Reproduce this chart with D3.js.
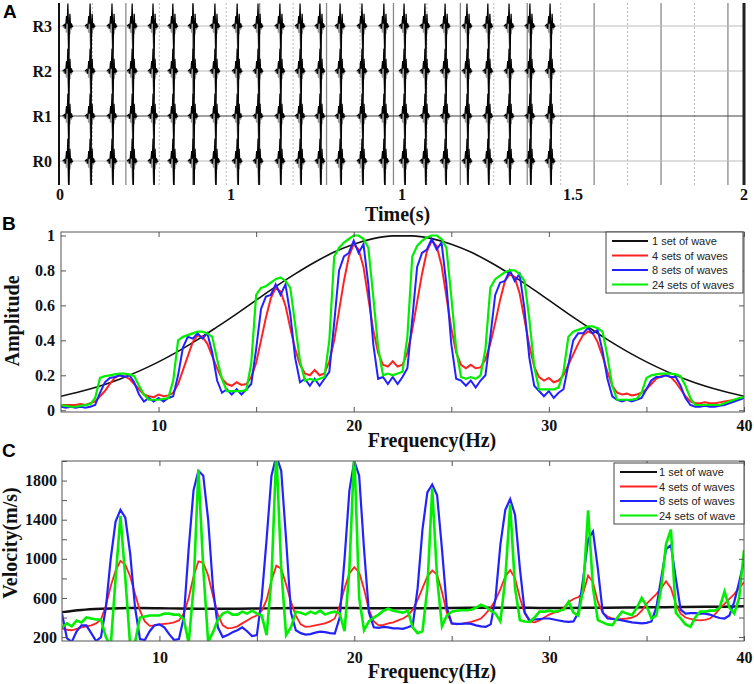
<!DOCTYPE html>
<html>
<head>
<meta charset="utf-8">
<script src="https://cdn.jsdelivr.net/npm/d3@7"></script>
<style>
body{margin:0;background:#fff;}
svg{display:block;}
.tk{font-family:"Liberation Serif","Times New Roman",serif;font-weight:bold;font-size:16px;fill:#111;}
.ttl{font-family:"Liberation Serif","Times New Roman",serif;font-weight:bold;font-size:20px;fill:#111;}
.pnl{font-family:"Liberation Sans",Arial,sans-serif;font-weight:bold;font-size:19px;fill:#000;}
.lg{font-family:"Liberation Sans",Arial,sans-serif;font-size:11px;fill:#222;}
</style>
</head>
<body>
<div id="chart"></div>
<script>
// ---- panel A : 24 wavelets recorded at 4 receivers
var rows = ["R0","R1","R2","R3"];
var waveTimes = [0.023,0.088,0.152,0.211,0.272,0.330,0.389,0.453,0.518,0.579,0.643,0.702,
                 0.760,0.819,0.883,0.947,1.006,1.067,1.126,1.190,1.251,1.313,1.374,1.433];
// wavelet samples: offset (ms), black trace amplitude, grey trace amplitude (1 = one row)
var waveMs    = [-15, -10, -7, -4, -2, 0, 1.5, 3, 4.5, 6, 8, 10, 12, 15];
var waveBlack = [0, 0.03, -0.06, 0.22, 0.05, 0.5, 0.1, -0.98, 0.02, 0.27, -0.05, 0.06, -0.02, 0];
var waveGrey  = [0, -0.04, 0.06, -0.15, 0.08, -0.22, -0.5, -0.18, 0.1, -0.18, 0.04, -0.08, 0.03, 0];
var timeTicks = [0, 0.5, 1, 1.5, 2];
var timeTickText = ["0", "1", "1", "1.5", "2"];

// ---- panel B : amplitude spectra
var freqCoarse = d3.range(5, 41);        // 1 Hz steps
var freqFine = d3.range(141).map(function(i){ return 5 + i * 0.25; });  // 0.25 Hz steps
var ampBlack = [0.08,0.107,0.139,0.178,0.224,0.277,0.337,0.404,0.477,0.552,0.63,0.707,0.78,0.847,
  0.905,0.95,0.982,0.998,0.998,0.982,0.95,0.905,0.847,0.78,0.707,0.63,0.552,0.477,0.404,0.337,
  0.277,0.224,0.178,0.139,0.107,0.08];
var ampRed = [
  0.03,0.03,0.03,0.03,  0.035,0.03,0.04,0.05,  0.08,0.11,0.15,0.185,  0.2,0.195,0.18,0.15,
  0.12,0.09,0.08,0.075, 0.09,0.08,0.085,0.1,   0.15,0.23,0.31,0.39,   0.43,0.42,0.38,0.31,
  0.24,0.18,0.15,0.14,  0.16,0.145,0.15,0.19,  0.27,0.4,0.53,0.64,    0.7,0.68,0.6,0.47,
  0.35,0.26,0.21,0.2,   0.23,0.2,0.21,0.28,    0.4,0.57,0.74,0.88,    0.95,0.92,0.82,0.64,
  0.46,0.33,0.26,0.25,  0.28,0.25,0.26,0.33,   0.46,0.62,0.78,0.91,   0.97,0.94,0.83,0.65,
  0.47,0.33,0.26,0.24,  0.26,0.24,0.245,0.29,  0.38,0.5,0.63,0.74,    0.78,0.76,0.67,0.52,
  0.37,0.25,0.19,0.17,  0.185,0.16,0.17,0.2,   0.26,0.32,0.38,0.43,   0.45,0.44,0.39,0.31,
  0.22,0.14,0.1,0.09,   0.095,0.085,0.09,0.1,  0.12,0.15,0.18,0.195,  0.2,0.19,0.16,0.12,
  0.08,0.05,0.04,0.04,  0.045,0.04,0.04,0.045, 0.05,0.055,0.06,0.065, 0.07];
var ampBlue = [
  0.02,0.015,0.02,0.015, 0.02,0.015,0.02,0.03,  0.1,0.16,0.185,0.19,  0.2,0.19,0.2,0.16,
  0.09,0.05,0.07,0.05,   0.07,0.05,0.07,0.08,   0.2,0.36,0.42,0.41,   0.44,0.41,0.44,0.33,
  0.17,0.1,0.12,0.09,    0.12,0.09,0.12,0.15,   0.35,0.58,0.65,0.66,  0.72,0.66,0.72,0.55,
  0.3,0.16,0.18,0.14,    0.18,0.14,0.18,0.22,   0.5,0.8,0.88,0.9,     0.97,0.9,0.95,0.72,
  0.38,0.18,0.19,0.15,   0.19,0.15,0.19,0.24,   0.52,0.82,0.9,0.92,   0.98,0.92,0.96,0.72,
  0.38,0.18,0.17,0.14,   0.17,0.13,0.17,0.2,    0.42,0.66,0.73,0.74,  0.8,0.74,0.78,0.58,
  0.3,0.14,0.11,0.08,    0.11,0.07,0.1,0.12,    0.26,0.4,0.44,0.44,   0.47,0.44,0.46,0.34,
  0.18,0.08,0.06,0.05,   0.06,0.05,0.06,0.07,   0.12,0.17,0.19,0.19,  0.2,0.19,0.19,0.14,
  0.07,0.03,0.02,0.02,   0.025,0.02,0.02,0.025, 0.03,0.04,0.05,0.06,  0.07];
var ampGreen = [
  0.03,0.025,0.02,0.02,  0.025,0.03,0.035,0.07, 0.185,0.195,0.2,0.205, 0.21,0.21,0.205,0.195,
  0.14,0.09,0.06,0.06,   0.06,0.065,0.07,0.17,  0.4,0.42,0.43,0.44,    0.45,0.45,0.44,0.42,
  0.29,0.18,0.11,0.11,   0.11,0.11,0.115,0.27,  0.66,0.7,0.71,0.73,    0.75,0.76,0.74,0.7,
  0.49,0.28,0.17,0.18,   0.17,0.18,0.19,0.4,    0.88,0.93,0.96,0.98,   1.0,1.0,0.98,0.93,
  0.65,0.36,0.2,0.21,    0.2,0.21,0.22,0.42,    0.88,0.94,0.97,0.99,   1.0,1.0,0.98,0.93,
  0.65,0.35,0.19,0.18,   0.19,0.18,0.2,0.35,    0.7,0.75,0.77,0.79,    0.8,0.8,0.78,0.74,
  0.52,0.25,0.12,0.12,   0.12,0.12,0.13,0.22,   0.42,0.45,0.46,0.47,   0.48,0.48,0.47,0.45,
  0.31,0.14,0.06,0.06,   0.06,0.06,0.065,0.1,   0.185,0.2,0.205,0.21,  0.21,0.21,0.205,0.195,
  0.14,0.07,0.03,0.03,   0.03,0.03,0.03,0.03,   0.04,0.05,0.06,0.07,   0.075];

// ---- panel C : phase velocity spectra (m/s)
var velBlack = [455,478,490,496,497,495,492,490,489,490,492,495,497,498,498,497,495,494,
  494,495,497,499,500,500,499,498,498,499,501,503,505,506,507,509,511,514];
var velRed = [
  290,275,270,285,  300,310,320,340,  380,520,720,880,  980,940,820,640,
  470,360,315,320,  330,335,340,350,  370,440,600,820,  975,960,830,620,
  430,320,290,295,  310,340,370,400,  420,470,580,780,  930,900,740,560,
  420,330,305,310,  320,330,340,360,  390,520,700,850,  915,860,690,480,
  360,320,325,340,  350,370,390,420,  480,580,700,820,  880,840,660,450,
  340,330,335,345,  355,370,390,440,  500,580,690,820,  885,800,600,440,
  360,350,370,400,  430,450,460,500,  560,590,610,650,  830,760,560,450,
  410,390,380,385,  390,400,420,470,  540,590,640,700,  770,700,540,440,
  400,385,375,370,  375,390,430,490,  540,590,640,700,  760];
var velBlue = [
  440,190,150,260,  320,320,240,160,  200,500,1000,1380,  1500,1420,1050,500,
  180,170,260,320,  330,300,230,170,  180,400,1100,1700,  1900,1850,1400,700,
  300,200,220,250,  270,300,260,210,  220,600,1200,1850,  2050,1900,1200,450,
  270,240,225,230,  245,255,250,240,  235,400,1000,1700,  2000,1850,1100,450,
  300,295,305,300,  290,290,285,300,  320,700,1300,1680,  1760,1650,1100,500,
  340,335,335,340,  335,320,310,305,  330,600,1150,1500,  1610,1450,900,450,
  370,380,385,390,  390,380,370,360,  355,360,450,800,    1200,1280,900,450,
  390,385,380,370,  360,350,345,340,  345,360,500,800,    1100,1140,800,480,
  440,445,445,440,  440,430,410,395,  390,420,560,760,    980];
var velGreen = [
  300,340,310,370,  350,400,390,380,  380,200,110,800,   1440,800,110,150,
  400,410,420,420,  420,440,440,430,  430,380,140,700,   1910,900,150,250,
  380,440,460,430,  430,460,440,470,  440,420,220,800,   2100,900,220,300,
  460,450,430,460,  440,470,430,450,  460,440,260,900,   2100,600,270,360,
  400,430,470,490,  470,460,450,470,  300,240,260,700,   1720,800,310,420,
  460,470,475,475,  480,500,530,510,  470,440,360,800,   1554,700,373,360,
  356,400,460,460,  470,460,470,480,  560,450,420,700,   1496,700,373,350,
  330,322,400,460,  440,424,500,600,  520,390,420,700,   1150,1300,450,390,
  330,305,400,460,  460,470,470,500,  665,500,441,600,   1088];

var legendB = ["1 set of wave", "4 sets of waves", "8 sets of waves", "24 sets of waves"];
var legendC = ["1 set of wave", "4 sets of waves", "8 sets of waves", "24 sets of wave"];
var seriesColors = ["#111111", "#ff2222", "#2222ff", "#00ee00"];

var svg = d3.select("#chart").append("svg").attr("width", 754).attr("height", 684);
svg.append("rect").attr("width", 754).attr("height", 684).attr("fill", "#fff");
var defs = svg.append("defs");

function clip(id, x, y, w, h){
  defs.append("clipPath").attr("id", id).append("rect")
    .attr("x", x).attr("y", y).attr("width", w).attr("height", h);
  return "url(#" + id + ")";
}

// ================= panel A =================
var tScale = d3.scaleLinear().domain([0, 2]).range([60, 744]);
var rowY = d3.scaleLinear().domain([0, 3]).range([161, 26]);
var ampPx = d3.scaleLinear().domain([0, 1]).range([0, 45]);
var gA = svg.append("g").attr("clip-path", clip("clipA", 59, 3, 687, 182));

// vertical grid, every ~0.1 s, solid / dashed in turn
d3.range(1, 21).forEach(function(k){
  var x = tScale(k * 0.0978 - 0.003);
  gA.append("line").attr("x1", x).attr("x2", x).attr("y1", 3).attr("y2", 185)
    .attr("stroke", k % 2 ? "#bbb" : "#8a8a8a")
    .attr("stroke-width", k % 2 ? 1 : 1.3)
    .attr("stroke-dasharray", k % 2 ? "2,2" : null);
});
rows.forEach(function(r, i){
  gA.append("line").attr("x1", 59).attr("x2", 744).attr("y1", rowY(i)).attr("y2", rowY(i))
    .attr("stroke", r == "R1" ? "#444" : "#bbb").attr("stroke-width", r == "R1" ? 1.2 : 1);
});

function wavePath(t0, row, amps){
  var line = d3.line();
  return line(waveMs.map(function(ms, j){
    return [tScale(t0 + ms / 1000), rowY(row) - ampPx(amps[j])];
  }));
}
rows.forEach(function(r, i){
  waveTimes.forEach(function(t0){
    gA.append("path").attr("d", wavePath(t0, i, waveGrey))
      .attr("fill", "none").attr("stroke", "#999").attr("stroke-width", 1.3);
  });
  waveTimes.forEach(function(t0){
    gA.append("path").attr("d", wavePath(t0, i, waveBlack))
      .attr("fill", "none").attr("stroke", "#000").attr("stroke-width", 1.2);
  });
});
svg.append("line").attr("x1", 59).attr("x2", 59).attr("y1", 3).attr("y2", 185)
  .attr("stroke", "#111").attr("stroke-width", 2);
svg.append("line").attr("x1", 744).attr("x2", 744).attr("y1", 3).attr("y2", 185)
  .attr("stroke", "#222").attr("stroke-width", 3);

rows.forEach(function(r, i){
  svg.append("text").attr("class", "tk").attr("x", 52).attr("y", rowY(i) + 5.5)
    .attr("text-anchor", "end").text(r);
});
timeTicks.forEach(function(t, i){
  svg.append("text").attr("class", "tk").attr("x", tScale(t)).attr("y", 200)
    .attr("text-anchor", "middle").text(timeTickText[i]);
});
svg.append("text").attr("class", "ttl").attr("font-size", "18px")
  .attr("x", 365).attr("y", 221).text("Time(s)");
svg.append("text").attr("class", "pnl").attr("x", 3).attr("y", 18).text("A");

// ================= shared axis helper =================
function frameAxes(x, y, xVals, yVals, yLabelVals, xPad, yPad, yFmt){
  var g = svg.append("g");
  var x0 = x.range()[0], x1 = x.range()[1], y0 = y.range()[0], y1 = y.range()[1];
  g.append("g").attr("transform", "translate(0," + y0 + ")")
    .call(d3.axisBottom(x).tickValues(xVals).tickSize(-5).tickPadding(xPad)
      .tickFormat(function(d){ return d % 10 === 0 ? d : ""; }));
  g.append("g").attr("transform", "translate(0," + y1 + ")")
    .call(d3.axisTop(x).tickValues(xVals).tickSize(-5).tickFormat(""));
  g.append("g").attr("transform", "translate(" + x0 + ",0)")
    .call(d3.axisLeft(y).tickValues(yVals).tickSize(-5).tickPadding(yPad)
      .tickFormat(function(d){ return yLabelVals.indexOf(d) >= 0 ? yFmt(d) : ""; }));
  g.append("g").attr("transform", "translate(" + x1 + ",0)")
    .call(d3.axisRight(y).tickValues(yVals).tickSize(-5).tickFormat(""));
  g.selectAll(".domain").remove();
  g.selectAll(".tick line").attr("stroke", "#555");
  g.selectAll("g").attr("font-family", null).attr("font-size", null);
  g.selectAll(".tick text").attr("class", "tk").attr("fill", null);
  svg.append("rect").attr("x", x0).attr("y", y1).attr("width", x1 - x0).attr("height", y0 - y1)
    .attr("fill", "none").attr("stroke", "#555").attr("stroke-width", 1);
}

function drawLegend(x, y, w, h, labels, lineX0, lineX1, textX){
  var g = svg.append("g");
  g.append("rect").attr("x", x).attr("y", y).attr("width", w).attr("height", h)
    .attr("fill", "#fff").attr("stroke", "#444").attr("stroke-width", 1);
  labels.forEach(function(l, i){
    var yy = y + 9 + i * 14.5;
    g.append("line").attr("x1", lineX0).attr("x2", lineX1).attr("y1", yy).attr("y2", yy)
      .attr("stroke", seriesColors[i]).attr("stroke-width", 2);
    g.append("text").attr("class", "lg").attr("x", textX).attr("y", yy + 4).text(l);
  });
}

// ================= panel B =================
var xB = d3.scaleLinear().domain([5, 40]).range([61, 744]);
var yB = d3.scaleLinear().domain([-0.01, 1.02]).range([412, 232]);
var gB = svg.append("g").attr("clip-path", clip("clipB", 61, 232, 683, 180));
var lineBc = d3.line().x(function(d, i){ return xB(freqCoarse[i]); }).y(function(d){ return yB(d); })
  .curve(d3.curveMonotoneX);
var lineBf = d3.line().x(function(d, i){ return xB(freqFine[i]); }).y(function(d){ return yB(d); });
gB.append("path").attr("d", lineBc(ampBlack)).attr("fill", "none").attr("stroke", seriesColors[0]).attr("stroke-width", 1.6);
gB.append("path").attr("d", lineBf(ampRed)).attr("fill", "none").attr("stroke", seriesColors[1]).attr("stroke-width", 2);
gB.append("path").attr("d", lineBf(ampBlue)).attr("fill", "none").attr("stroke", seriesColors[2]).attr("stroke-width", 2);
gB.append("path").attr("d", lineBf(ampGreen)).attr("fill", "none").attr("stroke", seriesColors[3]).attr("stroke-width", 2.2);
frameAxes(xB, yB, [10, 15, 20, 25, 30, 35, 40], [0, 0.2, 0.4, 0.6, 0.8, 1],
  [0, 0.2, 0.4, 0.6, 0.8, 1], 8, 6, function(d){ return d3.format("")(+d.toFixed(1)); });
drawLegend(606, 232, 137, 61, legendB, 612, 648, 652);
svg.append("text").attr("class", "ttl").attr("x", 432).attr("y", 447).attr("text-anchor", "middle").text("Frequency(Hz)");
svg.append("text").attr("class", "ttl").attr("font-size", "18px")
  .attr("transform", "translate(19,321) rotate(-90)").attr("text-anchor", "middle").text("Amplitude");
svg.append("text").attr("class", "pnl").attr("x", 2).attr("y", 230).text("B");

// ================= panel C =================
var xC = d3.scaleLinear().domain([5, 40]).range([62, 744]);
var yC = d3.scaleLinear().domain([160, 2000]).range([641, 461]);
var gC = svg.append("g").attr("clip-path", clip("clipC", 62, 461, 682, 180));
var lineCc = d3.line().x(function(d, i){ return xC(freqCoarse[i]); }).y(function(d){ return yC(d); })
  .curve(d3.curveMonotoneX);
var lineCf = d3.line().x(function(d, i){ return xC(freqFine[i]); }).y(function(d){ return yC(d); });
gC.append("path").attr("d", lineCc(velBlack)).attr("fill", "none").attr("stroke", seriesColors[0]).attr("stroke-width", 2.5);
gC.append("path").attr("d", lineCf(velRed)).attr("fill", "none").attr("stroke", seriesColors[1]).attr("stroke-width", 1.8);
gC.append("path").attr("d", lineCf(velBlue)).attr("fill", "none").attr("stroke", seriesColors[2]).attr("stroke-width", 2.2);
gC.append("path").attr("d", lineCf(velGreen)).attr("fill", "none").attr("stroke", seriesColors[3]).attr("stroke-width", 2.6);
frameAxes(xC, yC, [10, 15, 20, 25, 30, 35, 40], d3.range(200, 2001, 200),
  [200, 600, 1000, 1400, 1800], 11, 5, function(d){ return d; });
drawLegend(614, 463, 130, 61, legendC, 620, 657, 659);
svg.append("text").attr("class", "ttl").attr("x", 432).attr("y", 678).attr("text-anchor", "middle").text("Frequency(Hz)");
svg.append("text").attr("class", "ttl").attr("font-size", "19px")
  .attr("transform", "translate(17,543) rotate(-90)").attr("text-anchor", "middle").text("Velocity(m/s)");
svg.append("text").attr("class", "pnl").attr("x", 2).attr("y", 457).text("C");
</script>
</body>
</html>
